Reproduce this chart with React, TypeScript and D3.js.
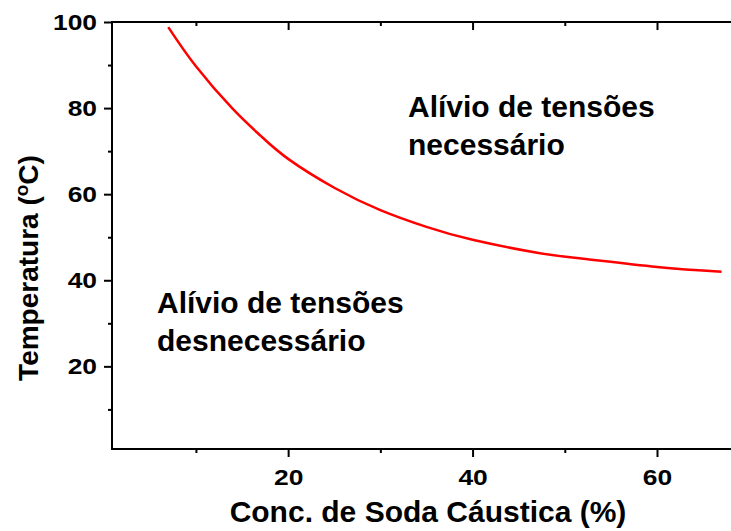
import React, { useEffect, useRef } from 'react';
import * as d3 from 'd3';

// curve (conc. % , temperature °C)
const concValues = [7, 10, 14, 17, 20, 25, 30, 35, 40, 47, 52, 60, 67];
const tempValues = [98.8, 89.7, 79.8, 73.6, 68.2, 61.5, 56.3, 52.4, 49.4, 46.4, 45.0, 43.1, 42.0];

const xMajorTicks = [20, 40, 60];
const xMinorTicks = [10, 30, 50];
const yMajorTicks = [20, 40, 60, 80, 100];
const yMinorTicks = [10, 30, 50, 70, 90];

const upperLabel = ['Alívio de tensões', 'necessário'];
const lowerLabel = ['Alívio de tensões', 'desnecessário'];

const W = 731;
const H = 531;

const App = () => {
  const svgRef = useRef<SVGSVGElement>(null);

  useEffect(() => {
    const svg = d3.select(svgRef.current);
    svg.selectAll('*').remove();

    const left = 112, right = 740, top = 22, bottom = 449;
    const x = d3.scaleLinear().domain([0.9, 69]).range([left, right]);
    const y = d3.scaleLinear().domain([0.8, 100]).range([bottom, top]);

    const font = "'Liberation Sans', Arial, sans-serif";
    const sx = 1.2;

    // frame
    svg.append('rect')
      .attr('x', left).attr('y', top)
      .attr('width', right - left).attr('height', bottom - top)
      .attr('fill', 'none').attr('stroke', '#000').attr('stroke-width', 2);

    const styleAxis = (g: any) => {
      g.select('.domain').remove();
      g.selectAll('line').attr('stroke', '#000').attr('stroke-width', 2);
    };

    // bottom axis
    const gx = svg.append('g').attr('transform', `translate(0,${bottom})`);
    gx.call(d3.axisBottom(x).tickValues(xMajorTicks).tickSize(8).tickPadding(12).tickFormat(d3.format('d')) as any);
    gx.call(styleAxis);
    gx.selectAll('text')
      .attr('font-family', font).attr('font-weight', 'bold').attr('font-size', 22).attr('fill', '#000')
      .attr('transform', `scale(${sx},1)`);
    svg.append('g').attr('transform', `translate(0,${bottom})`)
      .call(d3.axisBottom(x).tickValues(xMinorTicks).tickSize(4).tickFormat(() => '') as any)
      .call(styleAxis);

    // top axis (inward ticks)
    svg.append('g').attr('transform', `translate(0,${top})`)
      .call(d3.axisBottom(x).tickValues(xMajorTicks).tickSize(8).tickFormat(() => '') as any)
      .call(styleAxis);
    svg.append('g').attr('transform', `translate(0,${top})`)
      .call(d3.axisBottom(x).tickValues(xMinorTicks).tickSize(4).tickFormat(() => '') as any)
      .call(styleAxis);

    // left axis
    const gy = svg.append('g').attr('transform', `translate(${left},0)`);
    gy.call(d3.axisLeft(y).tickValues(yMajorTicks).tickSize(8).tickPadding(5).tickFormat(d3.format('d')) as any);
    gy.call(styleAxis);
    gy.selectAll('text')
      .attr('font-family', font).attr('font-weight', 'bold').attr('font-size', 22).attr('fill', '#000')
      .attr('x', -15 / sx)
      .attr('transform', `scale(${sx},1)`);
    svg.append('g').attr('transform', `translate(${left},0)`)
      .call(d3.axisLeft(y).tickValues(yMinorTicks).tickSize(4).tickFormat(() => '') as any)
      .call(styleAxis);

    // curve
    const pts = concValues.map((c, i) => [c, tempValues[i]] as [number, number]);
    const line = d3.line<[number, number]>()
      .x(d => x(d[0])).y(d => y(d[1]))
      .curve(d3.curveNatural);
    svg.append('path')
      .attr('d', line(pts))
      .attr('fill', 'none').attr('stroke', '#ff0000').attr('stroke-width', 2.5);

    // region labels
    const addLabel = (lines: string[], lx: number, ly: number) => {
      const t = svg.append('text')
        .attr('font-family', font).attr('font-weight', 'bold').attr('font-size', 30).attr('fill', '#000');
      lines.forEach((s, i) => {
        t.append('tspan').attr('x', lx).attr('y', ly + i * 38).text(s);
      });
    };
    addLabel(upperLabel, 408, 117);
    addLabel(lowerLabel, 157, 313);

    // axis titles
    svg.append('text')
      .attr('x', 428).attr('y', 522)
      .attr('text-anchor', 'middle')
      .attr('font-family', font).attr('font-weight', 'bold').attr('font-size', 30)
      .text('Conc. de Soda Cáustica (%)');

    const yt = svg.append('text')
      .attr('transform', 'translate(38,268) rotate(-90)')
      .attr('text-anchor', 'middle')
      .attr('font-family', font).attr('font-weight', 'bold').attr('font-size', 28);
    yt.append('tspan').text('Temperatura (');
    yt.append('tspan').attr('font-size', 19).attr('dy', -10).text('o');
    yt.append('tspan').attr('dy', 10).text('C)');
  }, []);

  return (
    <div style={{ position: 'absolute', left: 0, top: 0 }}>
      <svg ref={svgRef} width={W} height={H} style={{ display: 'block', background: '#fff' }} />
    </div>
  );
};

export default App;
